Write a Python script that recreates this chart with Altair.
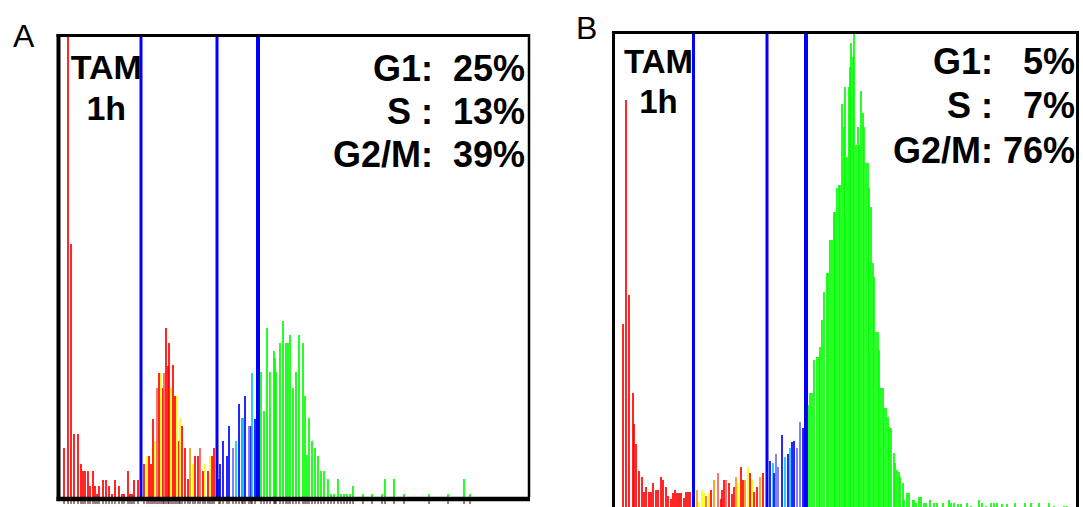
import altair as alt
import pandas as pd

# ---------------- Panel A : TAM 1h ----------------
# DNA-content channel of each histogram bar and its event count
a_g1_ch = [6, 10, 13, 16, 20, 23, 25, 27, 30, 32, 35, 37, 39, 41, 45, 48, 51, 54, 57, 61, 64, 66, 70, 72, 74, 76, 80]
a_g1_ct = [49, 470, 253, 63, 63, 33, 26, 26, 26, 11, 26, 11, 3, 11, 17, 17, 11, 3, 17, 11, 3, 3, 26, 3, 3, 17, 17]

a_s_ch = [86, 89, 91, 93, 95, 97, 99, 101, 103, 105, 106, 108, 110, 111, 113, 115, 117, 119, 121, 122,
          124, 127, 130, 132, 135, 137, 140, 142, 145, 147, 150, 152, 154, 156]
a_s_ct = [33, 41, 41, 33, 78, 56, 109, 124, 124, 109, 124, 169, 131, 154, 109, 132, 101, 101, 56, 79,
          71, 49, 18, 49, 33, 41, 41, 49, 26, 33, 26, 41, 41, 49]
a_s_col = ["r", "y", "r", "r", "r", "y", "s", "r", "y", "r", "s", "r", "r", "r", "y", "r", "r", "y", "r", "y",
           "r", "r", "r", "o", "y", "r", "r", "s", "r", "y", "r", "y", "r", "r"]

a_g2e_ch = [161, 162, 165, 169, 171, 175, 178, 181, 184, 185, 187, 191, 193, 194, 197]
a_g2e_ct = [18, 33, 56, 41, 71, 49, 56, 93, 79, 79, 101, 71, 71, 124, 78]
a_g2e_col = ["b", "b", "b", "b", "b", "l", "c", "b", "l", "c", "b", "l", "b", "c", "b"]

a_g2_ch = [203, 206, 209, 212, 216, 217, 218, 222, 225, 228, 230, 232, 235, 238, 241, 245, 247, 249, 251, 254,
           257, 260, 263, 266, 270, 273, 276, 280, 283, 286, 289, 292, 295, 305, 314, 324, 327, 336, 346, 371,
           390, 406, 412]
a_g2_ct = [125, 86, 169, 125, 146, 139, 125, 154, 176, 154, 154, 162, 109, 125, 162, 154, 101, 42, 79, 56,
           49, 41, 26, 26, 18, 3, 3, 18, 3, 3, 3, 3, 11, 3, 3, 3, 18, 18, 3, 3,
           3, 18, 3]

a_gates = [83, 159, 200]
a_gate_w = [3, 3, 4]

# ---------------- Panel B : TAM 1h ----------------
b_g1_ch = [9, 12, 15, 19, 20, 22, 25, 28, 30, 32, 35, 37, 39, 42, 44, 47, 49, 52, 54, 57,
           59, 61, 63, 65, 67, 70, 72, 74, 76]
b_g1_ct = [183, 407, 212, 114, 83, 63, 36, 30, 15, 20, 15, 15, 24, 17, 17, 30, 27, 20, 11, 8,
           14, 17, 14, 14, 14, 9, 15, 15, 15]

b_s_ch = [83, 85, 88, 90, 92, 95, 97, 100, 104, 107, 108, 110, 112, 115, 118, 120, 122, 124, 127, 129,
          131, 134, 136, 138, 140, 143, 146, 149]
b_s_ct = [17, 5, 17, 14, 11, 14, 17, 27, 34, 8, 17, 27, 27, 24, 13, 20, 30, 24, 40, 27,
          27, 40, 34, 27, 15, 20, 30, 34]
b_s_col = ["o", "y", "y", "y", "s", "y", "r", "o", "s", "r", "r", "r", "s", "r", "r", "r", "o", "y", "r", "r",
           "o", "y", "r", "y", "r", "r", "o", "r"]

b_g2e_ch = [156, 159, 160, 162, 164, 168, 171, 174, 176, 178, 180, 183, 186, 189]
b_g2e_ct = [46, 44, 34, 53, 40, 72, 50, 53, 59, 65, 66, 59, 85, 79]
b_g2e_col = ["b", "c", "b", "l", "l", "b", "c", "b", "c", "b", "b", "l", "l", "b"]

b_g2_ch = [194, 196, 198, 200, 203, 205, 206, 208, 210, 213, 214, 216, 218, 220, 221, 223, 225, 226, 228, 230,
           231, 233, 235, 236, 237, 239, 240, 242, 244, 245, 247, 249, 250, 252, 254, 255, 257, 259, 260, 262,
           264, 265, 267, 269, 270, 272, 274, 275, 277, 280, 281, 283, 285, 286, 289, 290, 293, 295, 299, 300,
           302, 305, 307, 310, 312, 316, 320, 323, 329, 335, 337, 340, 344, 347, 353, 357, 365, 368, 372, 377,
           380, 383, 388, 393, 401, 411, 417, 425, 435, 440, 450, 453]
b_g2_ct = [102, 114, 114, 147, 150, 150, 160, 187, 215, 234, 234, 267, 267, 295, 295, 319, 322, 322, 403, 380,
           420, 350, 420, 440, 464, 450, 475, 362, 380, 362, 416, 394, 380, 344, 344, 319, 300, 244, 230, 175,
           175, 157, 119, 119, 99, 99, 90, 80, 79, 54, 44, 37, 35, 30, 24, 7, 14, 14, 7, 7,
           4, 10, 10, 4, 4, 7, 4, 4, 4, 7, 4, 4, 3, 3, 4, 1, 7, 4, 1, 4,
           4, 4, 3, 3, 4, 4, 4, 4, 4, 1, 1, 1]

b_gates = [79.5, 153, 192]
b_gate_w = [3, 3, 4]

# ---------------- annotations ----------------
NB = "\u00a0"
a_head = ["TAM", "1h"]
a_head_ch = [48.3, 48.3]
a_head_ct = [417.7, 376.7]
a_stats = ["G1:" + NB * 2 + "25%", "S" + NB + ":" + NB * 2 + "13%", "G2/M:" + NB * 2 + "39%"]
a_stats_ch = [467, 467, 467]
a_stats_ct = [416.5, 373, 330]

b_head = ["TAM", "1h"]
b_head_ch = [44.5, 44.5]
b_head_ct = [434, 394]
b_stats = ["G1:" + NB * 3 + "5%", "S" + NB + ":" + NB * 3 + "7%", "G2/M:" + NB + "76%"]
b_stats_ch = [461, 461, 461]
b_stats_ct = [433, 389, 344]

COLOURS = {"r": "#ff0000", "y": "#ffff00", "o": "#ff9900", "s": "#ff5a5a",
           "b": "#0000ff", "l": "#6a6aff", "c": "#00c8ff", "g": "#00ff00"}

FONT = "Liberation Sans"


def bars_frame(groups):
    rows = []
    for chs, cts, cols in groups:
        for c, v, k in zip(chs, cts, cols):
            rows.append({"ch": c, "ct": v, "col": COLOURS[k]})
    return pd.DataFrame(rows)


def one_row():
    return pd.DataFrame({"k": [0]})


def panel(bars, gates, gate_w, width, height, head, head_ch, head_ct, head_size,
          stats, stats_ch, stats_ct, stats_size, letter, letter_x, letter_y, frame, extra):
    xs = alt.Scale(domain=[0, width], nice=False, zero=False, padding=0)
    ys = alt.Scale(domain=[0, height], nice=False, zero=True, padding=0)

    bar_layer = alt.Chart(bars).mark_bar(width=1.7, clip=True).encode(
        x=alt.X("ch:Q", scale=xs, axis=None),
        y=alt.Y("ct:Q", scale=ys, axis=None),
        color=alt.Color("col:N", scale=None),
    )
    gate_layer = alt.Chart(pd.DataFrame({"g": gates, "w": gate_w})).mark_rule(color="#0000ff").encode(
        x=alt.X("g:Q", scale=xs, axis=None),
        strokeWidth=alt.StrokeWidth("w:Q", scale=None),
    )
    head_layer = alt.Chart(pd.DataFrame({"t": head, "ch": head_ch, "ct": head_ct})).mark_text(
        align="center", baseline="alphabetic", font=FONT, fontWeight="bold",
        fontSize=head_size, color="black"
    ).encode(
        x=alt.X("ch:Q", scale=xs, axis=None),
        y=alt.Y("ct:Q", scale=ys, axis=None),
        text="t:N",
    )
    stats_layer = alt.Chart(pd.DataFrame({"t": stats, "ch": stats_ch, "ct": stats_ct})).mark_text(
        align="right", baseline="alphabetic", font=FONT, fontWeight="bold",
        fontSize=stats_size, color="black"
    ).encode(
        x=alt.X("ch:Q", scale=xs, axis=None),
        y=alt.Y("ct:Q", scale=ys, axis=None),
        text="t:N",
    )
    letter_layer = alt.Chart(one_row()).mark_text(
        text=letter, align="left", baseline="alphabetic", font=FONT,
        fontSize=32, color="black"
    ).encode(x=alt.value(letter_x), y=alt.value(letter_y))

    layers = [bar_layer] + extra + [gate_layer] + frame + [head_layer, stats_layer, letter_layer]
    return alt.layer(*layers).properties(width=width, height=height)


def hrule(x1, x2, y, w):
    return alt.Chart(one_row()).mark_rule(color="black", strokeWidth=w).encode(
        x=alt.value(x1), x2=alt.value(x2), y=alt.value(y))


def vrule(x, y1, y2, w):
    return alt.Chart(one_row()).mark_rule(color="black", strokeWidth=w).encode(
        x=alt.value(x), y=alt.value(y1), y2=alt.value(y2))


AW, AH = 471, 463
BW, BH = 464, 473

a_bars = bars_frame([
    (a_g1_ch, a_g1_ct, ["r"] * len(a_g1_ch)),
    (a_s_ch, a_s_ct, a_s_col),
    (a_g2e_ch, a_g2e_ct, a_g2e_col),
    (a_g2_ch, a_g2_ct, ["g"] * len(a_g2_ch)),
])
b_bars = bars_frame([
    (b_g1_ch, b_g1_ct, ["r"] * len(b_g1_ch)),
    (b_s_ch, b_s_ct, b_s_col),
    (b_g2e_ch, b_g2e_ct, b_g2e_col),
    (b_g2_ch, b_g2_ct, ["g"] * len(b_g2_ch)),
])

# little ticks under panel A's baseline, one per bar
a_ticks = alt.Chart(a_bars).mark_rule(color="#3a0000", strokeWidth=1).encode(
    x=alt.X("ch:Q", scale=alt.Scale(domain=[0, AW], nice=False, zero=False, padding=0), axis=None),
    y=alt.value(AH + 4), y2=alt.value(AH + 7),
)
# invisible anchor fixing the page's top-left corner
anchor = alt.Chart(one_row()).mark_rule(opacity=0).encode(
    x=alt.value(-57), y=alt.value(-33), y2=alt.value(-20))

a_frame = [
    hrule(-1.5, AW + 1, 1.5, 3),
    vrule(0.5, 0, AH + 4, 4),
    vrule(AW, 0, AH, 2.5),
    hrule(-1.5, AW + 1, AH + 2, 4.5),
]
b_frame = [
    hrule(-2, BW + 1, -1.5, 3),
    vrule(-0.5, -3, BH, 3),
    vrule(BW - 0.5, -3, BH, 3),
]

chart_a = panel(a_bars, a_gates, a_gate_w, AW, AH, a_head, a_head_ch, a_head_ct, 34,
                a_stats, a_stats_ch, a_stats_ct, 36, "A", -45, 13, a_frame, [a_ticks, anchor])
chart_b = panel(b_bars, b_gates, b_gate_w, BW, BH, b_head, b_head_ch, b_head_ct, 33,
                b_stats, b_stats_ch, b_stats_ct, 36, "B", -38, 5, b_frame, [])

chart = alt.hconcat(chart_a, chart_b, spacing=85, bounds="flush").properties(
    padding={"left": 0, "top": 0, "right": 0, "bottom": 0},
    background="white",
).configure_view(stroke="transparent")

chart.save("out.html", embed_options={"renderer": "svg", "actions": False})
